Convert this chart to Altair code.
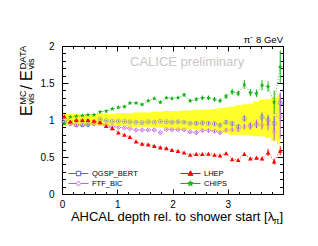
import altair as alt
import pandas as pd

# ---------------- data ----------------
x_vals = [0.04, 0.15, 0.26, 0.37, 0.47, 0.58, 0.69, 0.80, 0.91, 1.02, 1.13, 1.23, 1.34,
          1.45, 1.56, 1.67, 1.78, 1.89, 1.99, 2.10, 2.21, 2.32, 2.43, 2.54, 2.65, 2.76,
          2.86, 2.97, 3.08, 3.19, 3.30, 3.41, 3.52, 3.62, 3.73, 3.84, 3.95]

qgsp_bert = [0.99, 0.955, 0.935, 0.935, 0.94, 0.955, 1.01, 0.99, 0.98, 0.985, 0.98, 0.975, 0.97,
             0.965, 0.975, 0.97, 0.98, 0.975, 0.97, 0.975, 0.97, 0.955, 0.955, 0.96, 0.955, 0.95,
             0.93, 0.97, 0.95, 0.91, 1.02, 0.92, 0.94, 1.04, 1.00, 0.955, 1.23]
qgsp_err = [0.01, 0.01, 0.01, 0.01, 0.01, 0.01, 0.01, 0.01, 0.01, 0.01, 0.01, 0.01, 0.01,
            0.01, 0.01, 0.01, 0.01, 0.01, 0.015, 0.015, 0.015, 0.015, 0.02, 0.02, 0.02, 0.02,
            0.02, 0.025, 0.03, 0.03, 0.04, 0.04, 0.05, 0.06, 0.07, 0.10, 0.14]

ftf_bic = [0.97, 0.95, 0.935, 0.945, 0.95, 0.955, 0.955, 0.93, 0.91, 0.90, 0.895, 0.885, 0.865,
           0.865, 0.865, 0.865, 0.83, 0.875, 0.87, 0.87, 0.87, 0.84, 0.83, 0.86, 0.86, 0.85,
           0.83, 0.865, 0.87, 0.87, 0.91, 0.92, 0.955, 0.93, 0.94, 0.84, 1.045]
ftf_err = [0.01, 0.01, 0.01, 0.01, 0.01, 0.01, 0.01, 0.01, 0.01, 0.01, 0.01, 0.01, 0.01,
           0.01, 0.01, 0.01, 0.01, 0.01, 0.015, 0.015, 0.015, 0.015, 0.02, 0.02, 0.02, 0.02,
           0.02, 0.025, 0.03, 0.03, 0.04, 0.05, 0.05, 0.06, 0.08, 0.12, 0.30]

lhep = [1.05, 0.98, 1.00, 1.00, 1.00, 0.99, 0.97, 0.92, 0.89, 0.83, 0.80, 0.77, 0.71,
        0.68, 0.67, 0.65, 0.63, 0.62, 0.595, 0.58, 0.56, 0.53, 0.54, 0.54, 0.545, 0.53,
        0.52, 0.55, 0.47, 0.46, 0.54, 0.48, 0.49, 0.48, 0.56, 0.44, 0.585]
lhep_err = [0.01, 0.01, 0.01, 0.01, 0.01, 0.01, 0.01, 0.01, 0.01, 0.01, 0.01, 0.01, 0.01,
            0.01, 0.01, 0.01, 0.01, 0.01, 0.01, 0.01, 0.01, 0.01, 0.01, 0.01, 0.01, 0.015,
            0.015, 0.015, 0.015, 0.02, 0.02, 0.02, 0.02, 0.025, 0.05, 0.04, 0.06]

chips = [0.95, 1.04, 1.05, 1.06, 1.07, 1.07, 1.11, 1.12, 1.15, 1.17, 1.18, 1.23, 1.23,
         1.21, 1.26, 1.29, 1.24, 1.30, 1.29, 1.30, 1.34, 1.26, 1.28, 1.30, 1.30, 1.28,
         1.26, 1.32, 1.38, 1.36, 1.48, 1.37, 1.36, 1.47, 1.45, 1.24, 1.72]
chips_err = [0.01, 0.01, 0.01, 0.01, 0.01, 0.01, 0.01, 0.01, 0.015, 0.015, 0.015, 0.015, 0.015,
             0.02, 0.02, 0.02, 0.02, 0.02, 0.02, 0.02, 0.025, 0.025, 0.025, 0.03, 0.03, 0.03,
             0.03, 0.035, 0.04, 0.04, 0.06, 0.05, 0.05, 0.07, 0.07, 0.16, 0.22]

band_hi = [1.08, 1.08, 1.08, 1.07, 1.07, 1.07, 1.08, 1.08, 1.08, 1.09, 1.09, 1.09, 1.10,
           1.10, 1.10, 1.11, 1.11, 1.12, 1.12, 1.12, 1.13, 1.13, 1.14, 1.14, 1.14, 1.15,
           1.16, 1.17, 1.18, 1.20, 1.21, 1.22, 1.25, 1.27, 1.28, 1.30, 1.34]
band_lo = [0.93, 0.93, 0.93, 0.93, 0.93, 0.93, 0.92, 0.92, 0.92, 0.92, 0.92, 0.91, 0.91,
           0.91, 0.91, 0.90, 0.90, 0.89, 0.89, 0.88, 0.88, 0.88, 0.87, 0.87, 0.87, 0.86,
           0.85, 0.82, 0.80, 0.80, 0.80, 0.79, 0.78, 0.78, 0.76, 0.72, 0.67]

models = ["QGSP_BERT", "LHEP", "FTF_BIC", "CHIPS"]
x_label_values = [0, 1, 2, 3]
y_label_values = [0, 0.5, 1, 1.5, 2]
x_tick_values = [0, 0.2, 0.4, 0.6, 0.8, 1, 1.2, 1.4, 1.6, 1.8, 2, 2.2, 2.4, 2.6, 2.8,
                 3, 3.2, 3.4, 3.6, 3.8, 4]
y_tick_values = [0, 0.1, 0.2, 0.3, 0.4, 0.5, 0.6, 0.7, 0.8, 0.9, 1, 1.1, 1.2, 1.3, 1.4,
                 1.5, 1.6, 1.7, 1.8, 1.9, 2]

# ---------------- styling ----------------
W, H = 221, 148
FONT = "Liberation Sans"
BLUE = "#5a5aff"
VIOLET = "#c060e0"
RED = "#ff0000"
GREEN = "#12b012"
YELLOW = "#ffff2a"
STAR = ("M0,-1L0.235,-0.324L0.951,-0.309L0.38,0.124L0.588,0.809L0,0.4L-0.588,0.809"
        "L-0.38,0.124L-0.951,-0.309L-0.235,-0.324Z")

XS = alt.Scale(domain=[0, 4], nice=False, zero=False)
YS = alt.Scale(domain=[0, 2], nice=False, zero=False)


def X(axis=None):
    return alt.X("x:Q", scale=XS, axis=axis)


def Y(field="y", axis=None):
    return alt.Y(f"{field}:Q", scale=YS, axis=axis)


def series_df(vals, errs):
    return pd.DataFrame({"x": x_vals, "y": vals,
                         "lo": [v - e for v, e in zip(vals, errs)],
                         "hi": [v + e for v, e in zip(vals, errs)]})


band_df = pd.DataFrame({"x": x_vals, "lo": band_lo, "hi": band_hi})
d_q = series_df(qgsp_bert, qgsp_err)
d_f = series_df(ftf_bic, ftf_err)
d_l = series_df(lhep, lhep_err)
d_c = series_df(chips, chips_err)

cond_y = {"condition": {"test": "abs(datum.value*2 - round(datum.value*2)) < 0.001", "value": 6}, "value": 3.5}
cond_x = {"condition": {"test": "abs(datum.value - round(datum.value)) < 0.001", "value": 5}, "value": 2.5}

ax_xlab = alt.Axis(orient="bottom", values=x_label_values, format="~g", ticks=False, domain=False,
                   grid=False, labelFont=FONT, labelFontSize=10, labelPadding=5, labelFlush=False,
                   labelColor="black", title=None)
ax_ylab = alt.Axis(orient="left", values=y_label_values, format="~g", ticks=False, domain=False,
                   grid=False, labelFont=FONT, labelFontSize=10, labelPadding=8, labelFlush=False,
                   labelColor="black", title=None)
ax_y_left_in = alt.Axis(orient="right", offset=-W, values=y_tick_values, labels=False, domain=False,
                        grid=False, tickSize=cond_y, tickColor="black", tickWidth=1, title=None)
ax_y_right_in = alt.Axis(orient="left", offset=-W, values=y_tick_values, labels=False, domain=False,
                         grid=False, tickSize=cond_y, tickColor="black", tickWidth=1, title=None)
ax_x_bottom_in = alt.Axis(orient="top", offset=-H, values=x_tick_values, labels=False, domain=False,
                          grid=False, tickSize=cond_x, tickColor="black", tickWidth=1, title=None)
ax_x_top_in = alt.Axis(orient="bottom", offset=-H, values=x_tick_values, labels=False, domain=False,
                       grid=False, tickSize=cond_x, tickColor="black", tickWidth=1, title=None)

# ---------------- layers ----------------
band = alt.Chart(band_df).mark_area(interpolate="step", color=YELLOW).encode(
    x=X(ax_xlab), y=Y("lo", ax_ylab), y2="hi")
band_over = alt.Chart(band_df).mark_area(interpolate="step", color=YELLOW, opacity=0.5).encode(
    x=X(), y=Y("lo"), y2="hi")


def dotted(df, color, xaxis=None, yaxis=None):
    return alt.Chart(df).mark_line(color=color, strokeDash=[1.2, 1.8], strokeWidth=0.9, opacity=0.8).encode(
        x=X(xaxis), y=Y("y", yaxis))


def errbar(df, color):
    return alt.Chart(df).mark_rule(color=color, strokeWidth=1).encode(x=X(), y=Y("lo"), y2="hi")


def points(df, color, shape, filled, size):
    return alt.Chart(df).mark_point(shape=shape, filled=filled, color=color, size=size,
                                    strokeWidth=0.9, opacity=1).encode(x=X(), y=Y())


dummy = pd.DataFrame({"k": [0]})


def txt(s, x, y, size, angle=0, align="left", color="black"):
    return alt.Chart(dummy).mark_text(text=s, font=FONT, fontSize=size, angle=angle, align=align,
                                      baseline="alphabetic", color=color).encode(
        x=alt.value(x), y=alt.value(y))


# legend: one single-entry legend per model, placed in a 2x2 grid
leg_strokes = [BLUE, RED, VIOLET, GREEN]
leg_fills = ["transparent", RED, "transparent", GREEN]
leg_paths = [
    "M-1,0H-0.22M0.22,0H1M-0.22,-0.22H0.22V0.22H-0.22Z",
    "M-1,0H-0.2M0.2,0H1M0,-0.27L0.25,0.18H-0.25Z",
    "M-1,0H-0.24M0.24,0H1M0,-0.24L0.24,0L0,0.24L-0.24,0Z",
    "M-1,0H-0.2M0.2,0H1M0,-0.28L0.066,-0.091L0.266,-0.087L0.106,0.035L0.165,0.227L0,0.112"
    "L-0.165,0.227L-0.106,0.035L-0.266,-0.087L-0.066,-0.091Z",
]
leg_pos = [(6, 117), (118, 117), (6, 127), (118, 127)]


def legend_entry(i):
    leg = alt.Legend(title=None, orient="none", legendX=leg_pos[i][0], legendY=leg_pos[i][1],
                     symbolSize=400, symbolStrokeWidth=1, labelFont=FONT, labelFontSize=7.5,
                     labelOffset=3, padding=0, labelColor="black")
    dom = [models[i]]
    return alt.Chart(pd.DataFrame({"model": dom})).mark_point(filled=True, opacity=1).encode(
        stroke=alt.Stroke("model:N", scale=alt.Scale(domain=dom, range=[leg_strokes[i]]), legend=leg),
        fill=alt.Fill("model:N", scale=alt.Scale(domain=dom, range=[leg_fills[i]]), legend=leg),
        shape=alt.Shape("model:N", scale=alt.Scale(domain=dom, range=[leg_paths[i]]), legend=leg),
    ).transform_filter("false")


layers = [
    band,
    dotted(d_q, BLUE, ax_x_bottom_in, ax_y_left_in),
    dotted(d_f, VIOLET, ax_x_top_in, ax_y_right_in),
    points(d_q, BLUE, "circle", False, 18),
    points(d_f, VIOLET, "diamond", False, 20),
    band_over,
    errbar(d_q, BLUE),
    errbar(d_f, VIOLET),
    dotted(d_l, RED), errbar(d_l, RED), points(d_l, RED, "triangle-up", True, 22),
    dotted(d_c, GREEN), errbar(d_c, GREEN), points(d_c, GREEN, STAR, True, 26),
    # texts
    txt("CALICE preliminary", 68, 19.5, 13, color="#c8c8c8"),
    txt("π⁻ 8 GeV", W, -3.5, 9.5, align="right"),
    txt("]", W, 175, 13, align="right"),
    txt("π", W - 3.6, 177.5, 9, align="right"),
    txt("AHCAL depth rel. to shower start [λ", W - 8.8, 175, 13, align="right"),
    txt("E", -30, 70, 16, angle=270),
    txt("MC", -36.5, 58.5, 9, angle=270),
    txt("vis", -28.5, 58.5, 9, angle=270),
    txt("/", -30, 43.5, 16, angle=270),
    txt("E", -30, 35, 16, angle=270),
    txt("DATA", -36.5, 23.5, 9.5, angle=270),
    txt("vis", -28.5, 23.5, 9, angle=270),
] + [legend_entry(i) for i in range(4)]

chart = alt.layer(*layers).resolve_scale(
    x="independent", y="independent", stroke="independent", fill="independent", shape="independent"
).properties(
    width=W, height=H,
    padding={"left": 54, "top": 38, "right": 27, "bottom": 44},
    autosize=alt.AutoSizeParams(type="none"),
).configure_view(stroke="black", strokeWidth=1)

chart.save("out.html", embed_options={"renderer": "svg", "actions": False})
